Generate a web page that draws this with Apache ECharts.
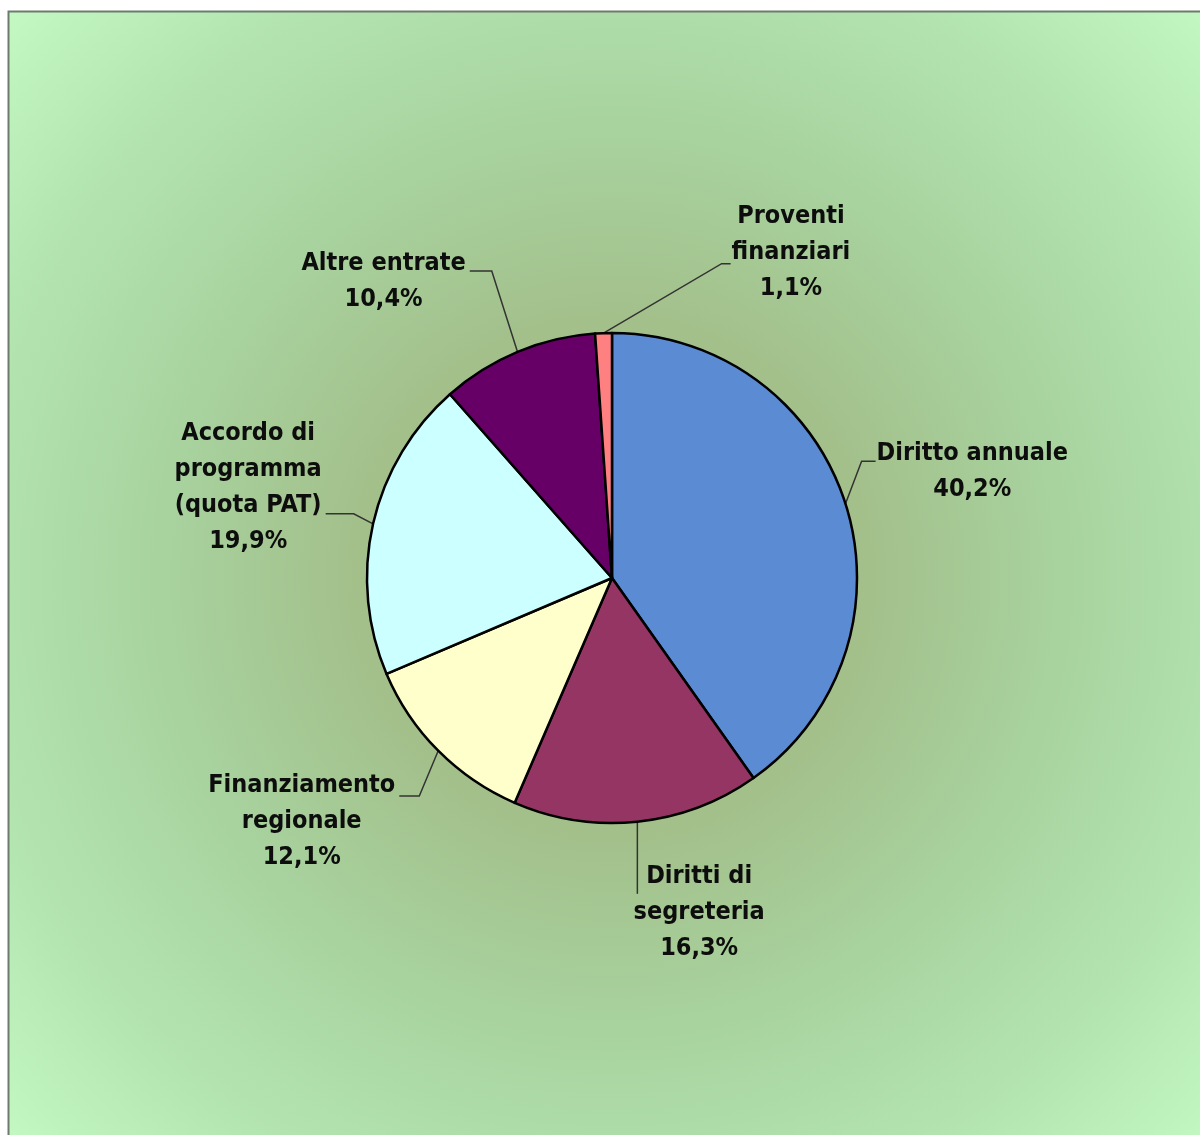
<!DOCTYPE html>
<html>
<head>
<meta charset="utf-8">
<script src="https://cdn.jsdelivr.net/npm/echarts@6/dist/echarts.min.js"></script>
<style>
html,body{margin:0;padding:0;background:#fff;}
#chart{width:1200px;height:1135px;}
</style>
</head>
<body>
<div id="chart"></div>
<script>
const categories = [
  'Diritto annuale',
  'Diritti di\nsegreteria',
  'Finanziamento\nregionale',
  'Accordo di\nprogramma\n(quota PAT)',
  'Altre entrate',
  'Proventi\nfinanziari'
];
const values = [40.2, 16.3, 12.1, 19.9, 10.4, 1.1];
const colors = ['#5a8bd3', '#953563', '#ffffcc', '#ccffff', '#660066', '#ff8080'];
const lineLen = [40, 70, 45, 25, 85, 95];
const lineLen2 = [14, 6, 18, 30, 22, 15];
// label nudges and leader-line styling (layout only)
const labelDx = [-26, -22, 12, 8, 8, 270];
const labelDy = [-20, 21, 39, -31, 8, 14];
const rightSide = [true, true, false, false, false, true];
const elbow = [14, null, 20, 28, 22, 9];
const connectY = [20, 30, 23, 93, 20, 60];

const chart = echarts.init(document.getElementById('chart'));
const fontFam = '"Liberation Sans Narrow", "Arial Narrow", "DejaVu Sans Condensed", sans-serif';

chart.setOption({
  animation: false,
  graphic: [{
    type: 'rect',
    z: -10,
    shape: { x: 8.5, y: 11.5, width: 1200, height: 1130 },
    style: {
      fill: {
        type: 'radial', x: 612, y: 578, r: 830, global: true,
        colorStops: [
          { offset: 0, color: '#9db37c' },
          { offset: 0.3, color: '#a3bf8a' },
          { offset: 0.55, color: '#a8d39f' },
          { offset: 0.8, color: '#b4e6b2' },
          { offset: 1, color: '#c4f9c3' }
        ]
      },
      stroke: '#6f7a6f',
      lineWidth: 2
    }
  }],
  series: [{
    type: 'pie',
    center: [612, 578],
    radius: 245,
    startAngle: 90,
    clockwise: true,
    avoidLabelOverlap: false,
    itemStyle: { borderColor: '#000', borderWidth: 2.5 },
    label: {
      show: true,
      position: 'outside',
      formatter: p => p.name.split('\n').map(s => '{t|' + s + '}').join('\n') +
        '\n{t|' + p.value.toFixed(1).replace('.', ',') + '%}',
      rich: {
        t: {
          color: '#0d0d0d',
          fontFamily: fontFam,
          fontWeight: 'bold',
          fontSize: 25,
          lineHeight: 36,
          align: 'center'
        }
      }
    },
    labelLine: {
      show: true,
      lineStyle: { color: '#333', width: 1.5 }
    },
    labelLayout: p => {
      const i = p.dataIndex;
      const r = p.labelRect;
      const x0 = r.x + labelDx[i], y0 = r.y + labelDy[i];
      const start = p.labelLinePoints ? p.labelLinePoints[0] : null;
      const out = { dx: labelDx[i], dy: labelDy[i] };
      if (start) {
        const yc = y0 + connectY[i];
        let pts;
        if (elbow[i] == null) {
          pts = [[start[0], start[1]], [start[0], yc], [start[0], yc]];
        } else if (rightSide[i]) {
          const xe = x0 - 1;
          pts = [[start[0], start[1]], [xe - elbow[i], yc], [xe, yc]];
        } else {
          const xe = x0 + r.width + 4;
          pts = [[start[0], start[1]], [xe + elbow[i], yc], [xe, yc]];
        }
        out.labelLinePoints = pts;
      }
      return out;
    },
    emphasis: { disabled: true },
    data: categories.map((c, i) => ({
      name: c,
      value: values[i],
      itemStyle: { color: colors[i] },
      labelLine: { length: lineLen[i], length2: lineLen2[i] }
    }))
  }]
});
</script>
</body>
</html>
